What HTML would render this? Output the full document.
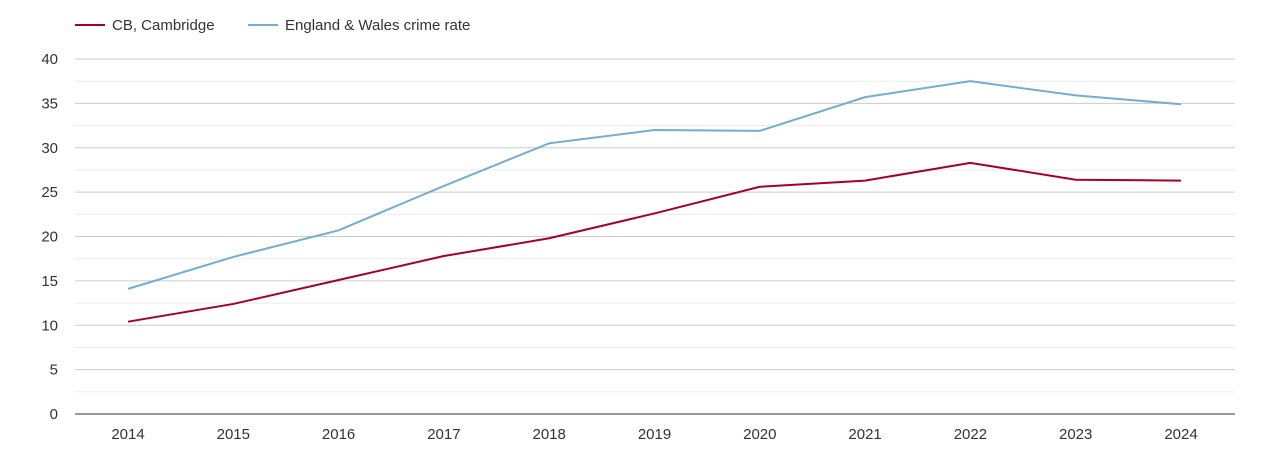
<!DOCTYPE html>
<html><head><meta charset="utf-8"><style>
body{margin:0;background:#fff;font-family:"Liberation Sans",sans-serif;}
svg text{font-family:"Liberation Sans",sans-serif;font-size:15px;fill:#333;}
</style></head><body>
<svg id="chart" width="1270" height="450">
<g>
<g><line x1="75" y1="25" x2="105" y2="25" stroke="#a50026" stroke-width="2"/><text x="112" y="30">CB, Cambridge</text></g>
<g><line x1="248" y1="25" x2="278" y2="25" stroke="#74add1" stroke-width="2"/><text x="285" y="30">England &amp; Wales crime rate</text></g>
</g>
<g id="grid"></g>
<g id="axes"></g>
<g id="series"></g>
</svg>
<script>
const years = [2014,2015,2016,2017,2018,2019,2020,2021,2022,2023,2024];
const cambridge = [10.4,12.4,15.1,17.8,19.8,22.6,25.6,26.3,28.3,26.4,26.3];
const englandWales = [14.1,17.7,20.7,25.7,30.5,32.0,31.9,35.7,37.5,35.9,34.9];
const yTicks = [0,5,10,15,20,25,30,35,40];
const NS="http://www.w3.org/2000/svg";
const x0=75,x1=1235,y0=414,y1=59,yMax=40;
const xs=i=>128+i*(1181-128)/(years.length-1);
const ys=v=>y0-(v/yMax)*(y0-y1);
function mk(t,a,p){const e=document.createElementNS(NS,t);for(const k in a)e.setAttribute(k,a[k]);p.appendChild(e);return e;}
const grid=document.getElementById('grid'),axes=document.getElementById('axes'),series=document.getElementById('series');
for(let v=2.5;v<yMax;v+=5){const l=mk('line',{x1:x0,x2:x1,y1:ys(v),y2:ys(v),stroke:'#ebebeb','stroke-width':1},grid);

}
yTicks.forEach(v=>{
 if(v>0){const l=mk('line',{x1:x0,x2:x1,y1:ys(v),y2:ys(v),stroke:'#ccc','stroke-width':1},grid);
 
 }
 const t=mk('text',{x:58,y:ys(v)+5,'text-anchor':'end'},axes);t.textContent=v;
 
 
});
const ax=mk('line',{x1:x0,x2:x1,y1:y0,y2:y0,stroke:'#333','stroke-width':1},axes);


years.forEach((y,i)=>{
 const t=mk('text',{x:xs(i),y:439,'text-anchor':'middle'},axes);t.textContent=y;
 
 
});
function line(data,color,name){
 const p=mk('polyline',{points:data.map((v,i)=>xs(i)+','+ys(v)).join(' '),fill:'none',stroke:color,'stroke-width':2},series);
 
 
}
line(englandWales,'#74add1','england-wales-line');
line(cambridge,'#a50026','cambridge-line');
</script>
</body></html>
